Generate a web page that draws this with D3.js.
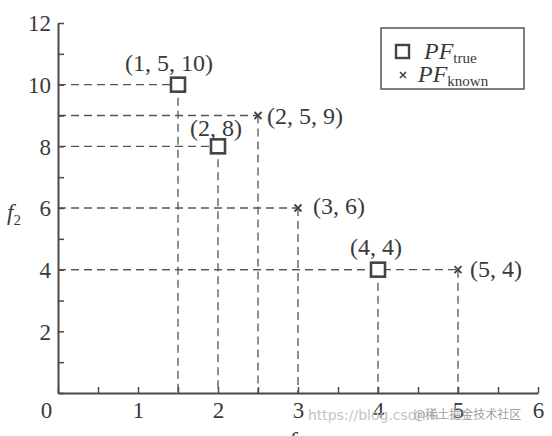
<!DOCTYPE html>
<html>
<head>
<meta charset="utf-8">
<script src="https://cdn.jsdelivr.net/npm/d3@7"></script>
<style>
  body { margin: 0; background: #fff; }
  text { font-family: "Liberation Serif", "DejaVu Serif", serif; fill: #3a3a3a; }
</style>
</head>
<body>
<div id="chart"></div>
<script>
var w = 552;
var h = 436;

// PF_true points
var trueX = [1.5, 2, 4];
var trueY = [10, 8, 4];
var trueLabels = ["(1, 5, 10)", "(2, 8)", "(4, 4)"];
// PF_known points
var knownX = [2.5, 3, 5];
var knownY = [9, 6, 4];
var knownLabels = ["(2, 5, 9)", "(3, 6)", "(5, 4)"];

var xTicks = [0, 0.5, 1, 1.5, 2, 2.5, 3, 3.5, 4, 4.5, 5, 5.5, 6];
var yTicks = [0, 1, 2, 3, 4, 5, 6, 7, 8, 9, 10, 11, 12];

var ink = "#4a4a4a";

var svg = d3.select("#chart")
    .append("svg")
    .attr("width", w)
    .attr("height", h);

var x = d3.scaleLinear().domain([0, 6]).range([58, 538]);
var y = d3.scaleLinear().domain([0, 12]).range([393, 23]);

// dashed guide lines
var pts = [];
trueX.forEach(function(d, i) { pts.push({x: d, y: trueY[i]}); });
knownX.forEach(function(d, i) { pts.push({x: d, y: knownY[i]}); });

var guides = svg.append("g")
    .attr("stroke", "#555")
    .attr("stroke-width", 1.3)
    .attr("stroke-dasharray", "8,5")
    .attr("fill", "none");

guides.selectAll(".hl")
    .data(pts)
    .enter()
    .append("line")
    .attr("x1", x(0))
    .attr("x2", function(d) { return x(d.x); })
    .attr("y1", function(d) { return y(d.y); })
    .attr("y2", function(d) { return y(d.y); });

guides.selectAll(".vl")
    .data(pts)
    .enter()
    .append("line")
    .attr("x1", function(d) { return x(d.x); })
    .attr("x2", function(d) { return x(d.x); })
    .attr("y1", function(d) { return y(d.y); })
    .attr("y2", y(0));

// axes
var yAxis = d3.axisLeft(y)
    .tickValues(yTicks)
    .tickSize(-6)
    .tickSizeOuter(0)
    .tickPadding(7)
    .tickFormat(function(d) { return (d % 2 === 0 && d > 0) ? d : ""; });

var xAxis = d3.axisBottom(x)
    .tickValues(xTicks)
    .tickSize(-6)
    .tickSizeOuter(0)
    .tickPadding(9)
    .tickFormat(function(d) { return d % 1 === 0 ? d : ""; });

var gy = svg.append("g")
    .attr("transform", "translate(" + x(0) + ",0)")
    .call(yAxis);

var gx = svg.append("g")
    .attr("transform", "translate(0," + y(0) + ")")
    .call(xAxis);

[gx, gy].forEach(function(g) {
    g.select(".domain").attr("stroke", ink).attr("stroke-width", 2);
    g.selectAll(".tick line").attr("stroke", ink).attr("stroke-width", 1.5);
    g.selectAll(".tick text")
        .attr("font-family", "Liberation Serif, serif")
        .attr("font-size", 23)
        .attr("fill", "#3a3a3a");
});
gx.selectAll(".tick text").attr("dy", "0.71em");
gx.selectAll(".tick text").filter(function(d) { return d === 0; })
    .attr("dx", -12);
gy.selectAll(".tick text").attr("dy", "0.34em");

// axis titles
var fy = svg.append("text")
    .attr("x", 7)
    .attr("y", 220)
    .attr("font-size", 23);
fy.append("tspan").attr("font-style", "italic").text("f");
fy.append("tspan").attr("font-size", 15).attr("dy", 5).text("2");

var fx = svg.append("text")
    .attr("x", 289)
    .attr("y", 448)
    .attr("font-size", 23);
fx.append("tspan").attr("font-style", "italic").text("f");
fx.append("tspan").attr("font-size", 15).attr("dy", 5).text("1");

// PF_true squares
svg.selectAll(".sq")
    .data(trueX)
    .enter()
    .append("rect")
    .attr("x", function(d) { return x(d) - 7; })
    .attr("y", function(d, i) { return y(trueY[i]) - 7; })
    .attr("width", 14)
    .attr("height", 14)
    .attr("fill", "#fff")
    .attr("stroke", "#444")
    .attr("stroke-width", 2.6);

// PF_known crosses
svg.selectAll(".cx")
    .data(knownX)
    .enter()
    .append("path")
    .attr("d", "M-3.5,-3.5L3.5,3.5M-3.5,3.5L3.5,-3.5")
    .attr("transform", function(d, i) { return "translate(" + x(d) + "," + y(knownY[i]) + ")"; })
    .attr("stroke", "#444")
    .attr("stroke-width", 1.8)
    .attr("fill", "none");

// point labels
var trueOff = [[-9, -14], [-2, -10], [-2, -15]];
svg.selectAll(".tl")
    .data(trueLabels)
    .enter()
    .append("text")
    .attr("x", function(d, i) { return x(trueX[i]) + trueOff[i][0]; })
    .attr("y", function(d, i) { return y(trueY[i]) + trueOff[i][1]; })
    .attr("text-anchor", "middle")
    .attr("font-size", 24)
    .text(function(d) { return d; });

var knownOff = [[9, 8], [15, 6], [12, 7]];
svg.selectAll(".kl")
    .data(knownLabels)
    .enter()
    .append("text")
    .attr("x", function(d, i) { return x(knownX[i]) + knownOff[i][0]; })
    .attr("y", function(d, i) { return y(knownY[i]) + knownOff[i][1]; })
    .attr("font-size", 24)
    .text(function(d) { return d; });

// legend
var lg = svg.append("g");
lg.append("rect")
    .attr("x", 381)
    .attr("y", 28)
    .attr("width", 143)
    .attr("height", 61)
    .attr("fill", "#fff")
    .attr("stroke", "#555")
    .attr("stroke-width", 1.5);
lg.append("rect")
    .attr("x", 396)
    .attr("y", 45)
    .attr("width", 13)
    .attr("height", 13)
    .attr("fill", "#fff")
    .attr("stroke", "#444")
    .attr("stroke-width", 2.4);
lg.append("path")
    .attr("d", "M-3,-3L3,3M-3,3L3,-3")
    .attr("transform", "translate(403,75)")
    .attr("stroke", "#444")
    .attr("stroke-width", 1.6);
var l1 = lg.append("text").attr("x", 424).attr("y", 59).attr("font-size", 24);
l1.append("tspan").attr("font-style", "italic").text("PF");
l1.append("tspan").attr("font-size", 15).attr("dy", 4).text("true");
var l2 = lg.append("text").attr("x", 418).attr("y", 82).attr("font-size", 24);
l2.append("tspan").attr("font-style", "italic").text("PF");
l2.append("tspan").attr("font-size", 15).attr("dy", 4).text("known");

// watermark
svg.append("text")
    .attr("x", 308)
    .attr("y", 420)
    .attr("font-size", 14)
    .style("fill", "#c4c4c4")
    .style("font-family", "DejaVu Sans, sans-serif")
    .text("https://blog.csdn.n");
svg.append("text")
    .attr("x", 414)
    .attr("y", 419)
    .attr("font-size", 12)
    .style("fill", "#a0a0a0")
    .style("font-family", "Noto Sans CJK SC, sans-serif")
    .text("@稀土掘金技术社区");
</script>
</body>
</html>
